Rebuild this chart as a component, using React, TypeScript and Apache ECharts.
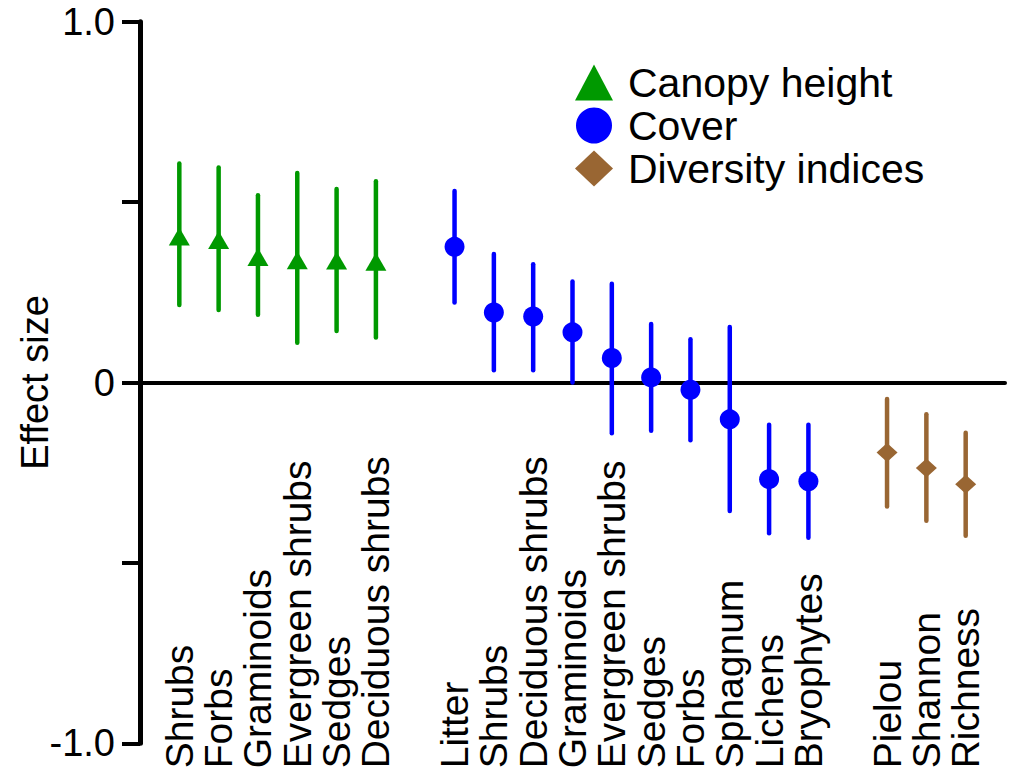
import React, { useEffect, useRef } from "react";
import * as echarts from "echarts";

// Canopy height
const canopyCats = ["Shrubs", "Forbs", "Graminoids", "Evergreen shrubs", "Sedges", "Deciduous shrubs"];
const canopyMean = [0.405, 0.395, 0.348, 0.339, 0.338, 0.335];
const canopyLow = [0.215, 0.201, 0.188, 0.11, 0.143, 0.125];
const canopyHigh = [0.607, 0.596, 0.519, 0.581, 0.536, 0.558];

// Cover
const coverCats = ["Litter", "Shrubs", "Deciduous shrubs", "Graminoids", "Evergreen shrubs", "Sedges", "Forbs", "Sphagnum", "Lichens", "Bryophytes"];
const coverMean = [0.376, 0.194, 0.183, 0.139, 0.068, 0.014, -0.02, -0.102, -0.268, -0.274];
const coverLow = [0.222, 0.034, 0.034, 0.0, -0.141, -0.134, -0.16, -0.356, -0.418, -0.43];
const coverHigh = [0.531, 0.356, 0.328, 0.28, 0.274, 0.162, 0.12, 0.154, -0.117, -0.117];

// Diversity indices
const divCats = ["Pielou", "Shannon", "Richness"];
const divMean = [-0.194, -0.237, -0.282];
const divLow = [-0.344, -0.383, -0.425];
const divHigh = [-0.046, -0.088, -0.139];

const yTicks: Record<string, string> = { "1": "1.0", "0": "0", "-1": "-1.0" };

const GREEN = "#009900";
const BLUE = "#0000ff";
const BROWN = "#996633";
const FONT = "'Liberation Sans', Arial, sans-serif";

export default function App() {
  const ref = useRef<HTMLDivElement>(null);

  useEffect(() => {
    document.body.style.margin = "0";
    if (!ref.current) return;
    const chart = echarts.init(ref.current, null, { renderer: "svg" });

    const categories: string[] = [];
    const groups: { name: string; color: string; symbol: string; size: number[]; cats: string[]; mean: number[]; low: number[]; high: number[]; start: number }[] = [];
    categories.push("");
    const addGroup = (name: string, color: string, symbol: string, size: number[], cats: string[], mean: number[], low: number[], high: number[]) => {
      const start = categories.length;
      cats.forEach((c) => categories.push(c));
      categories.push("");
      groups.push({ name, color, symbol, size, cats, mean, low, high, start });
    };
    addGroup("Canopy height", GREEN, "triangle", [21, 18], canopyCats, canopyMean, canopyLow, canopyHigh);
    addGroup("Cover", BLUE, "circle", [20, 20], coverCats, coverMean, coverLow, coverHigh);
    addGroup("Diversity indices", BROWN, "diamond", [21, 19], divCats, divMean, divLow, divHigh);

    const series: any[] = [];
    groups.forEach((g) => {
      series.push({
        name: g.name + " CI",
        type: "custom",
        xAxisIndex: 0,
        yAxisIndex: 0,
        z: 2,
        data: g.cats.map((_, i) => [g.start + i, g.low[i], g.high[i]]),
        encode: { x: 0, y: [1, 2] },
        renderItem: (params: any, api: any) => {
          const x = api.value(0);
          const lo = api.coord([x, api.value(1)]);
          const hi = api.coord([x, api.value(2)]);
          return {
            type: "line",
            shape: { x1: lo[0], y1: lo[1], x2: hi[0], y2: hi[1] },
            style: { stroke: g.color, lineWidth: 4.5, lineCap: "round" },
          };
        },
      });
      series.push({
        name: g.name,
        type: "scatter",
        xAxisIndex: 0,
        yAxisIndex: 0,
        z: 3,
        symbol: g.symbol,
        symbolSize: g.size,
        itemStyle: { color: g.color, opacity: 1 },
        data: g.cats.map((_, i) => [g.start + i, g.mean[i]]),
      });
    });

    chart.setOption({
      animation: false,
      backgroundColor: "#ffffff",
      textStyle: { fontFamily: FONT },
      grid: { left: 140, right: 8, top: 21.7, bottom: 30.7, containLabel: false, outerBoundsMode: "none" },
      legend: {
        orient: "vertical",
        left: 575,
        top: 62,
        padding: 0,
        itemWidth: 38,
        itemHeight: 36,
        itemGap: 2,
        textStyle: { fontSize: 41, color: "#000", fontFamily: FONT, padding: [0, 0, 0, 10] },
        data: [
          { name: "Canopy height", icon: "triangle" },
          { name: "Cover", icon: "circle" },
          { name: "Diversity indices", icon: "diamond" },
        ],
      },
      xAxis: [
        {
          type: "category",
          position: "top",
          data: categories,
          boundaryGap: false,
          axisLine: { show: true, onZero: true, lineStyle: { color: "#000", width: 4 } },
          axisTick: { show: false },
          axisLabel: { show: false },
          splitLine: { show: false },
        },
        {
          type: "category",
          position: "bottom",
          data: categories,
          boundaryGap: false,
          axisLine: { show: false, onZero: false },
          axisTick: { show: false },
          splitLine: { show: false },
          axisLabel: {
            show: true,
            interval: 0,
            rotate: 90,
            align: "left",
            verticalAlign: "middle",
            margin: 25,
            fontSize: 39,
            color: "#000",
            fontFamily: FONT,
          },
        },
      ],
      yAxis: {
        type: "value",
        min: -1,
        max: 1,
        interval: 0.5,
        name: "Effect size",
        nameLocation: "middle",
        nameRotate: 90,
        nameGap: 86,
        nameMoveOverlap: false,
        nameTextStyle: { fontSize: 38, color: "#000", fontFamily: FONT },
        axisLine: { show: true, onZero: false, lineStyle: { color: "#000", width: 5 } },
        axisTick: { show: true, inside: false, length: 18, lineStyle: { color: "#000", width: 4 } },
        splitLine: { show: false },
        axisLabel: {
          margin: 25,
          fontSize: 38,
          color: "#000",
          fontFamily: FONT,
          formatter: (v: number) => yTicks[String(v)] ?? "",
        },
      },
      series,
    });

    return () => chart.dispose();
  }, []);

  return <div ref={ref} style={{ width: 1013, height: 774 }} />;
}
